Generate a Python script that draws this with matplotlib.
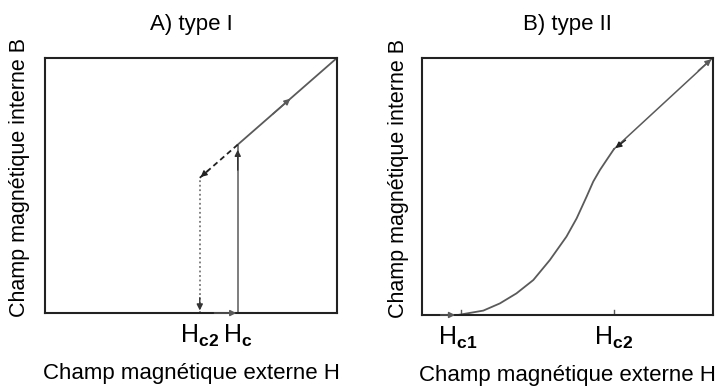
import matplotlib
matplotlib.use("Agg")
import matplotlib.pyplot as plt

plt.rcParams['font.family'] = ['Liberation Sans', 'DejaVu Sans']
plt.rcParams['mathtext.fontset'] = 'custom'
plt.rcParams['mathtext.rm'] = 'Liberation Sans'
plt.rcParams['mathtext.it'] = 'Liberation Sans'
plt.rcParams['mathtext.bf'] = 'Liberation Sans:bold'

# Data (normalised fields, 0..1)
Hc = 0.66
Hc2_I = 0.53
Hc1_II = 0.124
Hc2_II = 0.66
curve_H = [0.124, 0.211, 0.268, 0.325, 0.383, 0.440, 0.497, 0.532, 0.566, 0.589, 0.612, 0.635, 0.660]
curve_B = [0.0, 0.017, 0.045, 0.084, 0.136, 0.214, 0.305, 0.376, 0.460, 0.519, 0.564, 0.603, 0.645]
titles = ["A) type I", "B) type II"]
xlabel = "Champ magnétique externe H"
ylabel = "Champ magnétique interne B"
ticks_I = [r"$\mathrm{H}_{\mathbf{c2}}$", r"$\mathrm{H}_{\mathbf{c}}$"]
ticks_II = [r"$\mathrm{H}_{\mathbf{c1}}$", r"$\mathrm{H}_{\mathbf{c2}}$"]

lc = '#5a5a5a'
fig = plt.figure(figsize=(7.2, 3.86), dpi=100)
ax1 = fig.add_axes([0.0625, 0.189, 0.4056, 0.661])
ax2 = fig.add_axes([0.586, 0.184, 0.404, 0.666])

def arrow(ax, x0, y0, x1, y1, color=lc, ls='-'):
    ax.annotate('', xy=(x1, y1), xytext=(x0, y0),
                arrowprops=dict(arrowstyle='-|>', color=color, lw=1.0,
                                mutation_scale=9, shrinkA=0, shrinkB=0, linestyle=ls))

for ax, t, ticks, pos, lx in [(ax1, titles[0], ticks_I, [Hc2_I, Hc], -0.050),
                              (ax2, titles[1], ticks_II, [Hc1_II, Hc2_II], -0.044)]:
    ax.set_xlim(0, 1)
    ax.set_ylim(0, 1)
    ax.set_xticks(pos)
    ax.set_xticklabels(ticks, fontsize=18)
    ax.set_yticks([])
    ax.tick_params(axis='x', length=0, pad=7)
    ax.set_title(t, fontsize=16, pad=20)
    ax.set_xlabel(xlabel, fontsize=16, labelpad=10)
    ax.set_ylabel(ylabel, fontsize=15.5)
    ax.yaxis.set_label_coords(lx, 0.53)
    for s in ax.spines.values():
        s.set_linewidth(1.5)
        s.set_color('#222222')

# Panel A
ax1.plot([Hc, 1], [Hc, 1], color=lc, lw=1.3)
ax1.plot([Hc, Hc], [0, Hc], color=lc, lw=1.1)
ax1.plot([Hc2_I, Hc], [Hc2_I, Hc], color='#222222', lw=1.3, ls=(0, (3, 2)))
ax1.plot([Hc2_I, Hc2_I], [0, Hc2_I], color='#777777', lw=1.3, ls=(0, (1, 1.5)))
arrow(ax1, Hc - 0.08, 0, Hc - 0.005, 0)
arrow(ax1, Hc, Hc - 0.1, Hc, Hc - 0.02, color='#333333')
arrow(ax1, 0.78, 0.78, 0.84, 0.84)
arrow(ax1, Hc2_I + 0.03, Hc2_I + 0.03, Hc2_I + 0.003, Hc2_I + 0.003, color='#222222')
arrow(ax1, Hc2_I, 0.06, Hc2_I, 0.01, color='#333333')

# Panel B
ax2.plot(curve_H, curve_B, color=lc, lw=1.3)
ax2.plot([curve_H[-1], 1], [curve_B[-1], 1], color=lc, lw=1.1)
arrow(ax2, 0.95, 0.95, 0.995, 0.995)
arrow(ax2, curve_H[-1] + 0.04, curve_B[-1] + 0.035, curve_H[-1] + 0.005, curve_B[-1] + 0.004, color='#222222')
arrow(ax2, Hc1_II - 0.06, 0, Hc1_II - 0.01, 0)
ax2.plot([Hc2_II, Hc2_II], [0, 0.02], color=lc, lw=1.0)
ax2.plot([Hc1_II + 0.01, Hc1_II + 0.01], [0, 0.02], color=lc, lw=1.0)

fig.savefig('out.png', dpi=100)
